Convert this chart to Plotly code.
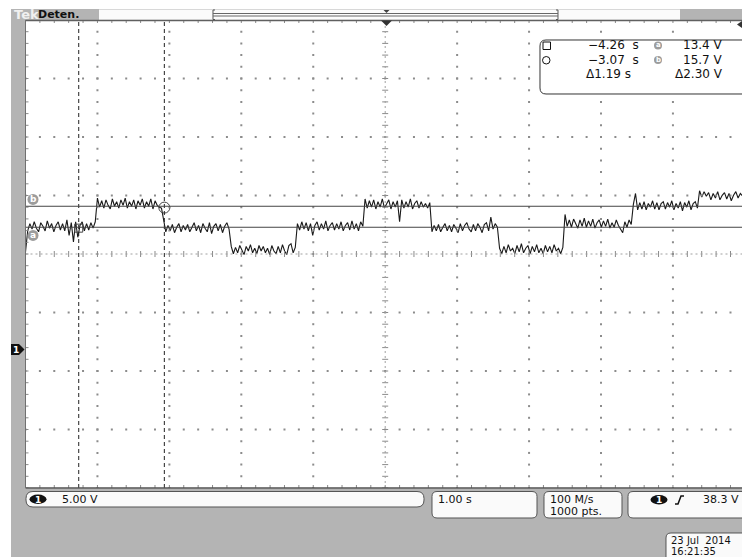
import numpy as np
import plotly.graph_objects as go

W, H = 742, 557

# ---- Channel 1 record -------------------------------------------------------
# Start time of every level (s); the last entry closes the record.
seg_edges = [-5.00, -4.00, -3.08, -2.14, -1.22, -0.28, 0.65, 1.59, 2.50, 3.45, 4.37, 5.00]

# Sampled voltages inside each level (V), evenly spaced within the level.
seg_volts = [
    [10.7, 13.0, 13.8, 13.2, 14.0, 13.3, 12.9, 13.9, 13.5, 13.0, 14.1, 13.3, 13.8, 12.9, 13.6, 14.0, 13.1,
     13.8, 13.0, 14.2, 12.5, 13.9, 11.8, 14.0, 12.3, 13.6, 14.0, 13.0, 13.8, 13.1, 13.9, 13.3, 14.0],
    [16.6, 15.6, 16.3, 15.5, 16.4, 15.8, 15.4, 16.5, 15.7, 16.2, 15.5, 16.4, 15.8, 16.6, 15.5, 16.2,
     15.7, 16.4, 15.4, 16.3, 15.8, 16.5, 15.5, 16.2, 15.7, 16.5, 15.4, 16.3, 15.8, 15.6, 15.5],
    [14.2, 12.9, 13.6, 13.0, 13.7, 12.8, 13.4, 13.8, 12.9, 13.6, 13.1, 13.7, 12.9, 13.4, 13.9, 13.0,
     13.6, 12.8, 13.8, 13.3, 12.9, 13.9, 12.7, 13.5, 13.8, 13.0, 13.7, 12.8, 13.5, 13.9, 13.2],
    [11.3, 10.5, 11.2, 10.6, 11.4, 10.8, 10.4, 11.3, 10.8, 11.5, 10.6, 11.1, 10.5, 11.4, 10.8, 11.3,
     10.6, 11.1, 10.4, 11.4, 10.8, 10.5, 11.3, 10.6, 11.5, 10.8, 10.4, 11.4, 11.6, 10.6, 11.2],
    [13.8, 13.1, 14.0, 13.2, 13.9, 13.0, 13.8, 12.5, 13.6, 14.0, 13.1, 13.8, 13.2, 14.1, 13.0, 13.6,
     13.9, 13.1, 13.8, 13.2, 14.0, 13.0, 13.6, 13.9, 13.1, 14.1, 13.2, 13.8, 13.0, 14.0, 13.5],
    [16.5, 15.5, 16.3, 15.6, 16.4, 15.4, 16.2, 15.6, 16.5, 15.5, 16.0, 16.4, 15.4, 16.2, 15.6, 16.3,
     14.0, 16.4, 15.5, 16.2, 15.6, 16.5, 15.4, 16.0, 16.3, 15.5, 16.2, 15.6, 16.0, 15.5, 16.1],
    [12.9, 13.6, 13.0, 13.7, 12.9, 13.4, 13.8, 13.0, 13.6, 12.9, 13.7, 13.3, 12.8, 13.8, 13.0, 13.6,
     13.9, 13.2, 12.9, 13.7, 13.0, 13.8, 13.4, 12.8, 13.7, 13.9, 13.0, 14.5, 13.2, 13.8, 13.4],
    [11.1, 10.5, 11.3, 10.6, 11.5, 10.8, 11.1, 10.5, 11.4, 10.7, 11.6, 10.6, 11.1, 11.4, 10.5, 11.3,
     10.7, 11.5, 10.6, 11.1, 10.5, 11.4, 10.7, 11.3, 10.6, 11.5, 10.8, 11.1, 10.5, 11.2],
    [14.8, 13.5, 14.2, 13.4, 14.3, 13.7, 13.3, 14.2, 13.5, 14.4, 13.4, 14.1, 13.5, 14.3, 13.3, 13.9,
     14.2, 13.4, 14.1, 13.5, 14.3, 13.3, 13.9, 13.4, 14.2, 13.6, 13.2, 12.8, 14.0, 13.4, 14.2, 13.7],
    [15.9, 17.1, 15.3, 16.1, 15.4, 16.2, 15.3, 16.0, 15.6, 16.3, 15.4, 16.1, 15.3, 16.0, 16.2, 15.4,
     16.1, 15.6, 16.3, 15.3, 16.0, 15.5, 16.2, 15.2, 16.1, 15.6, 16.3, 15.3, 16.0, 16.2, 15.5],
    [17.4, 16.7, 17.3, 16.8, 17.2, 16.4, 17.1, 16.6, 17.3, 16.4, 16.9, 17.2, 16.5, 17.1, 16.3, 16.9,
     17.3, 16.6, 17.1, 16.8],
]

# Cursor readouts
cursor_times = [-4.26, -3.07]      # s
cursor_volts = [13.4, 15.7]        # V  (a, b)
delta_t_label = "Δ1.19 s"
delta_v_label = "Δ2.30 V"

# Readout texts
status_text = "Deten."
ch1_scale = "5.00 V"
timebase = "1.00 s"
sample_rate = "100 M/s"
record_len = "1000 pts."
trigger_level = "38.3 V"
date_text = "23 Jul  2014"
time_text = "16:21:35"

# Screen scaling: 10 x 8 divisions, 1 s/div horizontally
t_range = [-5.0, 4.96]
v_range = [-15.16, 36.10]
div_range_y = [-4, 4]

# plot area in pixels
PX0, PX1 = 25.5, 742.0
PY0, PY1 = 20.0, 488.0

FONT = "DejaVu Sans"


def X(px):
    return px / W


def Y(py):
    return 1 - py / H


def P(x, y):
    return f"{X(x):.5f},{Y(y):.5f}"


def rrect_path(x0, y0, x1, y1, r):
    return (f"M{P(x0 + r, y0)} L{P(x1 - r, y0)} Q{P(x1, y0)} {P(x1, y0 + r)} "
            f"L{P(x1, y1 - r)} Q{P(x1, y1)} {P(x1 - r, y1)} L{P(x0 + r, y1)} "
            f"Q{P(x0, y1)} {P(x0, y1 - r)} L{P(x0, y0 + r)} Q{P(x0, y0)} {P(x0 + r, y0)} Z")


# ---- waveform samples --------------------------------------------------------
t, v = [], []
for t0, t1, vals in zip(seg_edges[:-1], seg_edges[1:], seg_volts):
    t.extend(np.linspace(t0, t1, len(vals), endpoint=False).tolist())
    v.extend(vals)

fig = go.Figure()

# ---- graticule (division units on overlay axes) -----------------------------
dot_x, dot_y = [], []
for k in [-4, -3, -2, -1, 1, 2, 3, 4]:
    for j in range(-20, 21):
        dot_x.append(k)
        dot_y.append(j * 0.2)
for k in [-3, -2, -1, 1, 2, 3]:
    for j in range(-25, 26):
        dot_x.append(j * 0.2)
        dot_y.append(k)

fig.add_trace(go.Scatter(x=dot_x, y=dot_y, xaxis="x2", yaxis="y2", mode="markers",
                         marker=dict(size=2, color="#8c8c8c", symbol="square", line=dict(width=0)),
                         hoverinfo="skip", showlegend=False))

hx, hy = 3 / 71.9, 3 / 58.5   # tick half-lengths in divisions
tick_x, tick_y = [], []
for j in range(-25, 26):          # ticks on the centre horizontal line and on top/bottom edges
    x = j * 0.2
    tick_x += [x, x, None, x, x, None, x, x, None]
    tick_y += [-hy, hy, None, 4, 4 - hy, None, -4, -4 + hy, None]
for j in range(-20, 21):          # ticks on the centre vertical line and on the left edge
    y = j * 0.2
    tick_x += [-hx, hx, None, -5, -5 + hx, None]
    tick_y += [y, y, None, y, y, None]
fig.add_trace(go.Scatter(x=tick_x, y=tick_y, xaxis="x2", yaxis="y2", mode="lines",
                         line=dict(color="#8a8a8a", width=1), hoverinfo="skip", showlegend=False))

# centre lines
fig.add_trace(go.Scatter(x=[-5, 5, None, 0, 0], y=[0, 0, None, -4, 4], xaxis="x2", yaxis="y2",
                         mode="lines", line=dict(color="#a0a0a0", width=1, dash="2px,3px"),
                         hoverinfo="skip", showlegend=False))

# ---- signal ------------------------------------------------------------------
fig.add_trace(go.Scatter(x=t, y=v, mode="lines", line=dict(color="#1a1a1a", width=1.1),
                         hoverinfo="skip", showlegend=False))

# cursor crossing markers
fig.add_trace(go.Scatter(x=[cursor_times[0]], y=[13.3], mode="markers",
                         marker=dict(symbol="square-open", size=8, color="#444", line=dict(width=1)),
                         hoverinfo="skip", showlegend=False))
fig.add_trace(go.Scatter(x=[cursor_times[1]], y=[15.55], mode="markers",
                         marker=dict(symbol="circle-open", size=11, color="#444", line=dict(width=1)),
                         hoverinfo="skip", showlegend=False))

shapes = []
ann = []

# cursors
for ct in cursor_times:
    shapes.append(dict(type="line", xref="x", yref="y domain", x0=ct, x1=ct, y0=0, y1=1,
                       line=dict(color="#222", width=1, dash="4px,3px")))
for cv in cursor_volts:
    shapes.append(dict(type="line", xref="x domain", yref="y", x0=0, x1=1, y0=cv, y1=cv,
                       line=dict(color="#444", width=1)))

# a / b cursor tags
vpp = (v_range[1] - v_range[0]) / (PY1 - PY0)   # volts per pixel
for name, cv, off in [("a", cursor_volts[0], -0.9), ("b", cursor_volts[1], 0.75)]:
    cy = cv + off
    shapes.append(dict(type="circle", xref="paper", yref="y", x0=X(27.5), x1=X(38.5),
                       y0=cy - 5.5 * vpp, y1=cy + 5.5 * vpp, fillcolor="#9c9c9c",
                       line=dict(width=0), layer="above"))
    ann.append(dict(x=X(33), y=cy, xref="paper", yref="y", text=f"<b>{name}</b>", showarrow=False,
                    font=dict(family=FONT, size=9, color="white"), xanchor="center", yanchor="middle"))

# ---- frame: grey bezel around the screen ------------------------------------
grey = "#b4b4b4"
shapes += [
    dict(type="rect", xref="paper", yref="paper", x0=X(11), x1=X(PX0), y0=Y(557), y1=Y(9),
         fillcolor=grey, line=dict(width=0), layer="above"),
    dict(type="rect", xref="paper", yref="paper", x0=X(11), x1=1, y0=Y(PY0), y1=Y(9),
         fillcolor=grey, line=dict(width=0), layer="above"),
    dict(type="rect", xref="paper", yref="paper", x0=X(11), x1=1, y0=0, y1=Y(PY1 + 0.5),
         fillcolor=grey, line=dict(width=0), layer="above"),
]
# screen borders
shapes += [
    dict(type="line", xref="paper", yref="paper", x0=X(PX0), x1=1, y0=Y(PY0 + 0.5), y1=Y(PY0 + 0.5),
         line=dict(color="#606060", width=1.5), layer="above"),
    dict(type="line", xref="paper", yref="paper", x0=X(PX0), x1=1, y0=Y(PY1), y1=Y(PY1),
         line=dict(color="#505050", width=1.5), layer="above"),
    dict(type="line", xref="paper", yref="paper", x0=X(PX0), x1=X(PX0), y0=Y(PY1), y1=Y(PY0),
         line=dict(color="#707070", width=1), layer="above"),
]

# top status bar
shapes.append(dict(type="rect", xref="paper", yref="paper", x0=X(99), x1=X(680), y0=Y(19.5), y1=Y(9.5),
                   fillcolor="#fbfbfb", line=dict(width=0), layer="above"))
# record view bracket
shapes += [
    dict(type="path", xref="paper", yref="paper",
         path=f"M{P(215, 10)} L{P(213, 10)} L{P(213, 19.5)} L{P(215, 19.5)}",
         line=dict(color="#555", width=1), layer="above"),
    dict(type="path", xref="paper", yref="paper",
         path=f"M{P(556, 10)} L{P(558, 10)} L{P(558, 19.5)} L{P(556, 19.5)}",
         line=dict(color="#555", width=1), layer="above"),
    dict(type="line", xref="paper", yref="paper", x0=X(213), x1=X(558), y0=Y(13.5), y1=Y(13.5),
         line=dict(color="#666", width=1), layer="above"),
    dict(type="line", xref="paper", yref="paper", x0=X(213), x1=X(558), y0=Y(16), y1=Y(16),
         line=dict(color="#666", width=1), layer="above"),
    dict(type="path", xref="paper", yref="paper",
         path=f"M{P(383.5, 10)} L{P(389.5, 10)} L{P(386.5, 13)} Z",
         fillcolor="#444", line=dict(width=0), layer="above"),
    # trigger position marker
    dict(type="path", xref="paper", yref="paper",
         path=f"M{P(381, 20.5)} L{P(392, 20.5)} L{P(386.5, 26)} Z",
         fillcolor="#333", line=dict(width=0), layer="above"),
    # trigger level arrow at the right edge
    dict(type="path", xref="paper", yref="paper",
         path=f"M{P(742, 21)} L{P(742, 28)} L{P(737, 24.5)} Z",
         fillcolor="#333", line=dict(width=0), layer="above"),
]
ann.append(dict(x=X(12), y=Y(14.5), xref="paper", yref="paper", text="<b>Tek</b>", showarrow=False,
                font=dict(family=FONT, size=13, color="#f0f0f0"), xanchor="left", yanchor="middle"))
ann.append(dict(x=X(36), y=Y(14.5), xref="paper", yref="paper", text=f"<b>{status_text}</b>",
                showarrow=False, font=dict(family=FONT, size=11, color="#111"),
                xanchor="left", yanchor="middle"))

# channel 1 ground marker (0 V)
g = 5.5 * vpp
shapes.append(dict(type="path", xref="paper", yref="y",
                   path=f"M{X(11):.5f},{g:.4f} L{X(19):.5f},{g:.4f} L{X(24.5):.5f},0 "
                        f"L{X(19):.5f},{-g:.4f} L{X(11):.5f},{-g:.4f} Z",
                   fillcolor="#111", line=dict(width=0), layer="above"))
ann.append(dict(x=X(16), y=0, xref="paper", yref="y", text="<b>1</b>", showarrow=False,
                font=dict(family=FONT, size=9, color="white"), xanchor="center", yanchor="middle"))

# ---- cursor measurement panel ------------------------------------------------
shapes.append(dict(type="path", xref="paper", yref="paper", path=rrect_path(540, 40, 760, 94, 6),
                   fillcolor="white", line=dict(color="#333", width=1), layer="above"))
shapes.append(dict(type="rect", xref="paper", yref="paper", x0=X(543), x1=X(550.5), y0=Y(49.5), y1=Y(42),
                   line=dict(color="#111", width=1), layer="above"))
shapes.append(dict(type="circle", xref="paper", yref="paper", x0=X(542.5), x1=X(550), y0=Y(64), y1=Y(56.5),
                   line=dict(color="#111", width=1), layer="above"))
for name, py in [("a", 45.5), ("b", 60)]:
    shapes.append(dict(type="circle", xref="paper", yref="paper", x0=X(654), x1=X(662),
                       y0=Y(py + 4), y1=Y(py - 4), fillcolor="#9c9c9c", line=dict(width=0), layer="above"))
    ann.append(dict(x=X(658), y=Y(py), xref="paper", yref="paper", text=f"<b>{name}</b>", showarrow=False,
                    font=dict(family=FONT, size=7, color="white"), xanchor="center", yanchor="middle"))

meas_rows = [
    (f"−{abs(cursor_times[0]):.2f}  s", 45.5, f"{cursor_volts[0]:.1f} V"),
    (f"−{abs(cursor_times[1]):.2f}  s", 60, f"{cursor_volts[1]:.1f} V"),
]
for tl, py, vl in meas_rows:
    ann.append(dict(x=X(641), y=Y(py), xref="paper", yref="paper", text=tl, showarrow=False,
                    font=dict(family=FONT, size=12, color="#111"), xanchor="right", yanchor="middle"))
    ann.append(dict(x=X(725), y=Y(py), xref="paper", yref="paper", text=vl, showarrow=False,
                    font=dict(family=FONT, size=12, color="#111"), xanchor="right", yanchor="middle"))
ann.append(dict(x=X(633), y=Y(74), xref="paper", yref="paper", text=delta_t_label, showarrow=False,
                font=dict(family=FONT, size=12, color="#111"), xanchor="right", yanchor="middle"))
ann.append(dict(x=X(725), y=Y(74), xref="paper", yref="paper", text=delta_v_label, showarrow=False,
                font=dict(family=FONT, size=12, color="#111"), xanchor="right", yanchor="middle"))

# ---- bottom readouts --------------------------------------------------------
box_line = dict(color="#555", width=1)
shapes += [
    dict(type="path", xref="paper", yref="paper", path=rrect_path(26, 491.5, 424, 507, 7),
         fillcolor="#fafafa", line=box_line, layer="above"),
    dict(type="path", xref="paper", yref="paper", path=rrect_path(432, 491.5, 537, 518, 5),
         fillcolor="#fafafa", line=box_line, layer="above"),
    dict(type="path", xref="paper", yref="paper", path=rrect_path(544, 491.5, 622, 518, 5),
         fillcolor="#fafafa", line=box_line, layer="above"),
    dict(type="path", xref="paper", yref="paper", path=rrect_path(628, 491.5, 760, 518, 5),
         fillcolor="#fafafa", line=box_line, layer="above"),
    dict(type="path", xref="paper", yref="paper", path=rrect_path(666, 533, 760, 575, 5),
         fillcolor="#fafafa", line=box_line, layer="above"),
    # channel badges
    dict(type="circle", xref="paper", yref="paper", x0=X(29.5), x1=X(46.5), y0=Y(504), y1=Y(494.5),
         fillcolor="#111", line=dict(width=0), layer="above"),
    dict(type="circle", xref="paper", yref="paper", x0=X(650.5), x1=X(667.5), y0=Y(504.5), y1=Y(495),
         fillcolor="#111", line=dict(width=0), layer="above"),
    # rising-edge trigger slope
    dict(type="path", xref="paper", yref="paper",
         path=f"M{P(675, 504)} L{P(678, 504)} L{P(681, 496)} L{P(684, 496)}",
         line=dict(color="#111", width=1.5), layer="above"),
]
ann.append(dict(x=X(38), y=Y(499.5), xref="paper", yref="paper", text="<b>1</b>", showarrow=False,
                font=dict(family=FONT, size=9, color="white"), xanchor="center", yanchor="middle"))
ann.append(dict(x=X(659), y=Y(500), xref="paper", yref="paper", text="<b>1</b>", showarrow=False,
                font=dict(family=FONT, size=9, color="white"), xanchor="center", yanchor="middle"))

readouts = [
    (ch1_scale, 59.5, 499.5, "left", 11),
    (timebase, 436, 499.5, "left", 11),
    (sample_rate, 547.5, 499.5, "left", 11),
    (record_len, 547.5, 511.5, "left", 11),
    (trigger_level, 741, 499.5, "right", 11),
    (date_text, 669, 540, "left", 10),
    (time_text, 669, 551.5, "left", 10),
]
for txt, px, py, anchor, fs in readouts:
    ann.append(dict(x=X(px), y=Y(py), xref="paper", yref="paper", text=txt, showarrow=False,
                    font=dict(family=FONT, size=fs, color="#111"), xanchor=anchor, yanchor="middle"))

axis_common = dict(showgrid=False, zeroline=False, showticklabels=False, ticks="", showline=False,
                   fixedrange=True)
fig.update_layout(
    width=W, height=H,
    margin=dict(l=0, r=0, t=0, b=0),
    paper_bgcolor="white",
    plot_bgcolor="white",
    xaxis=dict(domain=[X(PX0), X(PX1)], range=t_range, **axis_common),
    yaxis=dict(domain=[Y(PY1), Y(PY0)], range=v_range, **axis_common),
    xaxis2=dict(overlaying="x", range=t_range, visible=False, fixedrange=True),
    yaxis2=dict(overlaying="y", range=div_range_y, visible=False, fixedrange=True),
    shapes=shapes,
    annotations=ann,
    showlegend=False,
)

fig.write_html("out.html")
